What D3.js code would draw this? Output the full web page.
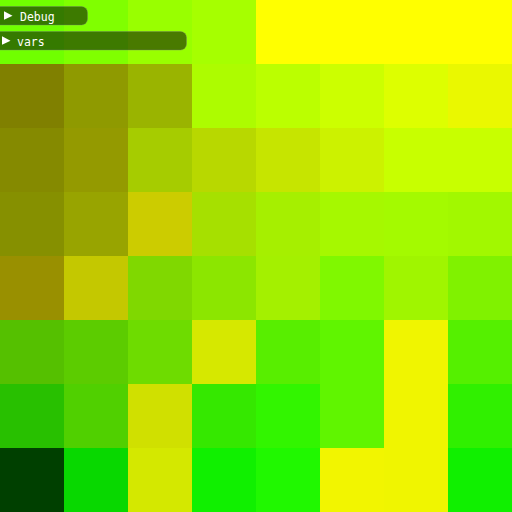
<!DOCTYPE html>
<html><head><meta charset="utf-8">
<script src="https://cdn.jsdelivr.net/npm/d3@7"></script>
<style>html,body{margin:0;padding:0;background:#000;overflow:hidden}</style>
</head><body>
<script>
const cols = [0,1,2,3,4,5,6,7];
const rows = [0,1,2,3,4,5,6,7];
const row0 = ["#70ff00","#80ff00","#99ff00","#a6ff00","#ffff00","#ffff00","#ffff00","#ffff00"];
const row1 = ["#808000","#8f9a00","#9ab400","#adfc00","#bbff00","#ccff00","#ddff00","#eaf800"];
const row2 = ["#858a00","#949a00","#a6cc00","#b8d800","#c6e500","#ccf200","#c8ff00","#c8ff00"];
const row3 = ["#869000","#98a400","#cccc00","#a6e000","#a6ef00","#a6f800","#a4fa00","#a2f800"];
const row4 = ["#999000","#c4c800","#80d800","#8ce600","#a4f000","#80f800","#a0f500","#80f200"];
const row5 = ["#55c000","#5ccc00","#6edc00","#d6e800","#58ee00","#60f500","#f0f500","#55f000"];
const row6 = ["#28c000","#50d000","#d0e000","#35e800","#32f500","#60f500","#f0f500","#30f000"];
const row7 = ["#004000","#08d800","#d4e800","#10f000","#20f800","#f2f500","#f0f500","#10f000"];
const grid = [row0,row1,row2,row3,row4,row5,row6,row7];
const panels = ["Debug","vars"];

const W = 512, H = 512;
const x = d3.scaleBand().domain(cols).range([0, W]);
const y = d3.scaleBand().domain(rows).range([0, H]);

const svg = d3.select("body").append("svg").attr("width", W).attr("height", H)
  .style("display","block");

const cells = [];
rows.forEach(r => cols.forEach(c => cells.push({r, c, color: grid[r][c]})));

svg.append("g").attr("shape-rendering","crispEdges")
  .selectAll("rect").data(cells).join("rect")
  .attr("x", d => x(d.c)).attr("y", d => y(d.r))
  .attr("width", x.bandwidth()).attr("height", y.bandwidth())
  .attr("fill", d => d.color);

const panelW = [88, 187];
const panelY = [6, 31];
const panelH = [18.5, 18.5];
const triX = [4, 2];
const textX = [20, 17];
const pg = svg.append("g").selectAll("g").data(panels).join("g")
  .attr("transform", (d,i) => `translate(0,${panelY[i]})`);
pg.append("rect")
  .attr("x", -6).attr("y", 0.5)
  .attr("width", (d,i) => panelW[i] + 5.5).attr("height", (d,i) => panelH[i])
  .attr("rx", 6).attr("ry", 6)
  .attr("fill", "rgba(0,0,0,0.52)")
  .attr("stroke", "rgba(120,120,120,0.35)").attr("stroke-width", 1);
pg.append("path")
  .attr("d", (d,i) => `M${triX[i]},${panelH[i]/2-4} L${triX[i]+8.5},${panelH[i]/2+0.5} L${triX[i]},${panelH[i]/2+4.5} Z`)
  .attr("fill", "#fff");
pg.append("text")
  .attr("x", (d,i) => textX[i])
  .attr("y", 14.5)
  .attr("fill", "#fff")
  .attr("font-family", "DejaVu Sans Mono, monospace")
  .attr("font-size", 11.5)
  .text(d => d);
</script>
</body></html>
